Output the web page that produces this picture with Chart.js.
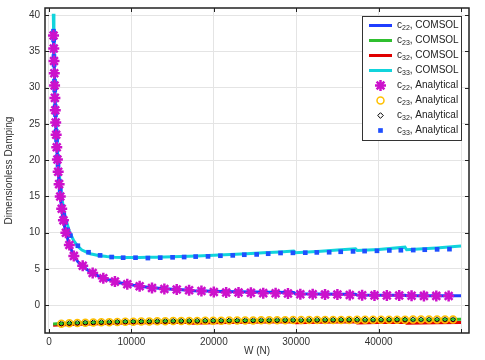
<!DOCTYPE html>
<html><head><meta charset="utf-8">
<script src="https://cdn.jsdelivr.net/npm/chart.js@4.4.0/dist/chart.umd.min.js"></script>
<style>html,body{margin:0;padding:0;background:#fff}#wrap{width:485px;height:360px}</style>
</head><body><div id="wrap"><canvas id="c" width="485" height="360"></canvas></div>
<script>
// ---------- data ----------
const xTicks = [0, 10000, 20000, 30000, 40000, 50000];
const xTickLabels = ['0', '10000', '20000', '30000', '40000', ''];
const yTicks = [0, 5, 10, 15, 20, 25, 30, 35, 40];

const seriesNames = ['c22, COMSOL','c23, COMSOL','c32, COMSOL','c33, COMSOL','c22, Analytical','c23, Analytical','c32, Analytical','c33, Analytical'];

const wC22 = [550,600,700,800,900,1000,1200,1400,1600,1800,2000,2500,3000,3500,4000,5000,6000,7000,8000,9000,10000,11000,12000,13000,14000,15000,16000,17000,17200,17400,19000,21000,23000,25000,27000,29700,29900,33000,36000,37200,37400,41000,43200,43400,47000,50000];
const c22Comsol = [37.3,34.2,29.3,25.6,22.8,20.5,17.1,14.6,12.8,11.4,10.2,8.2,6.9,6.0,5.4,4.6,4.0,3.6,3.25,3.0,2.8,2.62,2.48,2.38,2.28,2.2,2.14,2.1,2.08,1.98,1.94,1.88,1.84,1.8,1.78,1.76,1.56,1.54,1.52,1.5,1.4,1.38,1.37,1.3,1.3,1.29];

const wC33 = [520,600,700,800,900,1000,1200,1400,1600,1800,2000,2500,3000,3500,4000,5000,6000,7000,8000,9000,10000,11000,12000,13000,14000,15000,16000,17000,18000,20000,22000,24000,26000,28000,29700,29900,33000,35000,37200,37400,40000,43200,43400,47000,50000];
const c33Comsol = [40.2,35.0,30.2,26.8,24.0,21.9,18.6,16.3,14.5,13.1,12.0,10.1,8.9,8.1,7.6,7.1,6.85,6.7,6.62,6.58,6.58,6.57,6.6,6.62,6.65,6.68,6.72,6.76,6.8,6.9,7.0,7.1,7.22,7.35,7.46,7.24,7.45,7.6,7.78,7.55,7.68,8.0,7.65,7.9,8.15];

const wC23 = [500,1000,2000,4000,6000,8000,10000,14000,17200,17400,20000,24000,29700,29900,33000,37200,37400,40000,43200,43400,47000,50000];
const c23Comsol = [-2.6,-2.56,-2.5,-2.42,-2.36,-2.3,-2.26,-2.2,-2.16,-2.2,-2.15,-2.1,-2.04,-2.1,-2.06,-2.0,-2.06,-2.03,-1.98,-2.04,-2.0,-1.96];
const c32Comsol = [-2.78,-2.75,-2.7,-2.62,-2.55,-2.5,-2.46,-2.39,-2.34,-2.48,-2.42,-2.36,-2.28,-2.42,-2.36,-2.3,-2.45,-2.4,-2.34,-2.48,-2.43,-2.4];

const wStar = [551,579,608,640,677,717,762,813,872,940,1020,1114,1228,1367,1541,1752,2050,2470,3015,4090,5300,6590,8000,9500,11000,12500,14000,15500,17000,18500,20000,21500,23000,24500,26000,27500,29000,30500,32000,33500,35000,36500,38000,39500,41000,42500,44000,45500,47000,48500];
const c22Analytical = [37.2,35.4,33.7,32.0,30.3,28.6,26.9,25.2,23.5,21.8,20.1,18.4,16.7,15.0,13.3,11.7,10.0,8.3,6.8,5.45,4.44,3.7,3.25,2.9,2.6,2.38,2.24,2.15,2.06,1.96,1.83,1.76,1.74,1.7,1.66,1.64,1.6,1.52,1.5,1.48,1.46,1.4,1.36,1.35,1.34,1.33,1.3,1.28,1.28,1.27];

const wCirc = [1500,2470,3440,4410,5380,6350,7320,8290,9260,10230,11200,12170,13140,14110,15080,16050,17020,17990,18960,19930,20900,21870,22840,23810,24780,25750,26720,27690,28660,29630,30600,31570,32540,33510,34480,35450,36420,37390,38360,39330,40300,41270,42240,43210,44180,45150,46120,47090,48060,49030];
const c23Analytical = [-2.55,-2.5,-2.46,-2.42,-2.39,-2.36,-2.34,-2.32,-2.3,-2.28,-2.26,-2.25,-2.23,-2.22,-2.2,-2.19,-2.18,-2.17,-2.16,-2.15,-2.14,-2.13,-2.12,-2.11,-2.1,-2.09,-2.09,-2.08,-2.07,-2.06,-2.06,-2.05,-2.05,-2.04,-2.04,-2.03,-2.03,-2.02,-2.02,-2.01,-2.01,-2.0,-2.0,-2.0,-1.99,-1.99,-1.98,-1.98,-1.98,-1.97];
const c32Analytical = [-2.55,-2.5,-2.46,-2.42,-2.39,-2.36,-2.34,-2.32,-2.3,-2.28,-2.26,-2.25,-2.23,-2.22,-2.2,-2.19,-2.18,-2.17,-2.16,-2.15,-2.14,-2.13,-2.12,-2.11,-2.1,-2.09,-2.09,-2.08,-2.07,-2.06,-2.06,-2.05,-2.05,-2.04,-2.04,-2.03,-2.03,-2.02,-2.02,-2.01,-2.01,-2.0,-2.0,-2.0,-1.99,-1.99,-1.98,-1.98,-1.98,-1.97];

const wSq = [545,562,580,600,620,645,668,695,722,755,788,828,868,918,968,1030,1095,1170,1255,1360,1475,1620,1790,2000,2250,2600,3500,4800,6200,7600,9000,10500,12000,13500,15000,16400,17800,19300,20800,22300,23700,25200,26600,28100,29600,31100,32500,34000,35400,36900,38300,39800,41300,42700,44200,45600,47100,48600];
const c33Analytical = [37.8,36.6,35.5,34.3,33.2,32.0,30.9,29.7,28.6,27.4,26.3,25.1,24.0,22.8,21.7,20.5,19.4,18.2,17.1,15.9,14.8,13.6,12.5,11.4,10.4,9.6,8.2,7.3,6.87,6.64,6.55,6.55,6.5,6.55,6.6,6.64,6.7,6.73,6.82,6.87,6.96,7.0,7.1,7.2,7.22,7.24,7.28,7.3,7.37,7.42,7.46,7.5,7.55,7.58,7.6,7.65,7.7,7.73];

// ---------- helpers ----------
const pts = (xs, ys) => xs.map((x, i) => ({x, y: ys[i]}));
const lineDs = (label, xs, ys, color) => ({label, data: pts(xs, ys), showLine: true, borderColor: color, backgroundColor: color,
  borderWidth: 3, pointRadius: 0, pointHoverRadius: 0, order: 2, _kind: 'line'});
const markDs = (label, xs, ys, style, stroke, fill, r, bw) => ({label, data: pts(xs, ys), showLine: false,
  pointStyle: style, pointRadius: r, pointBorderColor: stroke, pointBackgroundColor: fill, pointBorderWidth: bw,
  borderColor: stroke, backgroundColor: fill, borderWidth: bw, order: 1, _kind: 'mark'});

const datasets = [
  lineDs(seriesNames[0], wC22, c22Comsol, '#1f3dff'),
  lineDs(seriesNames[1], wC23, c23Comsol, '#2fbf2f'),
  lineDs(seriesNames[2], wC23, c32Comsol, '#e00000'),
  lineDs(seriesNames[3], wC33, c33Comsol, '#11d4dc'),
  markDs(seriesNames[4], wStar, c22Analytical, 'star', '#cc11cc', '#cc11cc', 5.5, 2.5),
  markDs(seriesNames[5], wCirc, c23Analytical, 'circle', '#ffc000', 'rgba(0,0,0,0)', 3.5, 1.5),
  markDs(seriesNames[6], wCirc, c32Analytical, 'rectRot', '#000000', 'rgba(0,0,0,0)', 2.8, 1),
  markDs(seriesNames[7], wSq, c33Analytical, 'rect', '#1f4fff', '#1f4fff', 3.3, 0),
];

// ---------- plugins ----------
const framePlugin = {
  id: 'frame',
  afterDatasetsDraw(chart) {
    const {ctx, chartArea: a, scales: {x, y}} = chart;
    ctx.save();
    ctx.strokeStyle = '#222';
    ctx.lineWidth = 1;
    ctx.beginPath();
    xTicks.forEach(v => { const p = Math.round(x.getPixelForValue(v)) + 0.5;
      ctx.moveTo(p, a.bottom); ctx.lineTo(p, a.bottom - 4); ctx.moveTo(p, a.top); ctx.lineTo(p, a.top + 4); });
    yTicks.forEach(v => { const p = Math.round(y.getPixelForValue(v)) + 0.5;
      ctx.moveTo(a.left, p); ctx.lineTo(a.left + 4, p); ctx.moveTo(a.right, p); ctx.lineTo(a.right - 4, p); });
    ctx.stroke();
    ctx.lineWidth = 1.5;
    ctx.strokeRect(a.left, a.top, a.right - a.left, a.bottom - a.top);
    ctx.restore();
  }
};

function drawLabel(ctx, text, x, y) {
  const m = text.match(/^c(\d+)(.*)$/);
  ctx.textBaseline = 'middle';
  ctx.fillStyle = '#222';
  ctx.font = '10px "Liberation Sans", Arial, sans-serif';
  ctx.fillText('c', x, y);
  let cx = x + ctx.measureText('c').width;
  ctx.font = '7px "Liberation Sans", Arial, sans-serif';
  ctx.fillText(m[1], cx, y + 2.5);
  cx += ctx.measureText(m[1]).width;
  ctx.font = '10px "Liberation Sans", Arial, sans-serif';
  ctx.fillText(m[2], cx, y);
}

const legendPlugin = {
  id: 'boxLegend',
  afterDraw(chart) {
    const {ctx, chartArea: a} = chart;
    const ds = chart.data.datasets;
    const rowH = 15, boxW = 99, boxH = ds.length * rowH + 4;
    const right = a.right - 8, left = right - boxW, top = a.top + 8;
    ctx.save();
    ctx.fillStyle = '#fff';
    ctx.fillRect(left, top, boxW, boxH);
    ctx.strokeStyle = '#333';
    ctx.lineWidth = 1;
    ctx.strokeRect(left + 0.5, top + 0.5, boxW, boxH);
    ds.forEach((d, i) => {
      const yy = top + 9.5 + i * rowH;
      const lx0 = left + 7, lx1 = left + 30;
      if (d._kind === 'line') {
        ctx.strokeStyle = d.borderColor; ctx.lineWidth = 3;
        ctx.beginPath(); ctx.moveTo(lx0, yy); ctx.lineTo(lx1, yy); ctx.stroke();
      } else {
        ctx.strokeStyle = d.pointBorderColor; ctx.fillStyle = d.pointBackgroundColor;
        ctx.lineWidth = d.pointBorderWidth;
        Chart.helpers.drawPoint(ctx, {pointStyle: d.pointStyle, radius: d.pointRadius, borderWidth: d.pointBorderWidth, rotation: 0}, (lx0 + lx1) / 2, yy);
      }
      drawLabel(ctx, d.label, left + 35, yy);
    });
    ctx.restore();
  }
};

Chart.defaults.font.family = '"Liberation Sans", Arial, sans-serif';
Chart.defaults.font.size = 10;
Chart.defaults.color = '#333';

new Chart(document.getElementById('c'), {
  type: 'scatter',
  data: {datasets},
  options: {
    responsive: false,
    animation: false,
    layout: {padding: {top: 6, right: 16, left: 0, bottom: 0}},
    plugins: {legend: {display: false}, tooltip: {enabled: false}},
    scales: {
      x: {
        type: 'linear', min: -485, max: 50970,
        afterBuildTicks: s => { s.ticks = xTicks.map(v => ({value: v})); },
        afterFit: s => { s.height = 27; s.paddingLeft = 0; s.paddingRight = 0; },
        ticks: {padding: 3, maxRotation: 0, autoSkip: false, callback: (v) => xTickLabels[xTicks.indexOf(v)] ?? ''},
        grid: {color: '#e4e4e4', drawTicks: false},
        border: {display: false},
        title: {display: true, text: 'W (N)', padding: {top: 0, bottom: 3}, font: {size: 10}}
      },
      y: {
        type: 'linear', min: -3.84, max: 41.0,
        afterBuildTicks: s => { s.ticks = yTicks.map(v => ({value: v})); },
        afterFit: s => { s.width = 45; s.paddingTop = 0; s.paddingBottom = 0; },
        ticks: {padding: 5, autoSkip: false},
        grid: {color: '#e4e4e4', drawTicks: false},
        border: {display: false},
        title: {display: true, text: 'Dimensionless Damping', padding: {top: 3, bottom: 0}, font: {size: 10}}
      }
    }
  },
  plugins: [framePlugin, legendPlugin]
});
</script>
</body></html>
